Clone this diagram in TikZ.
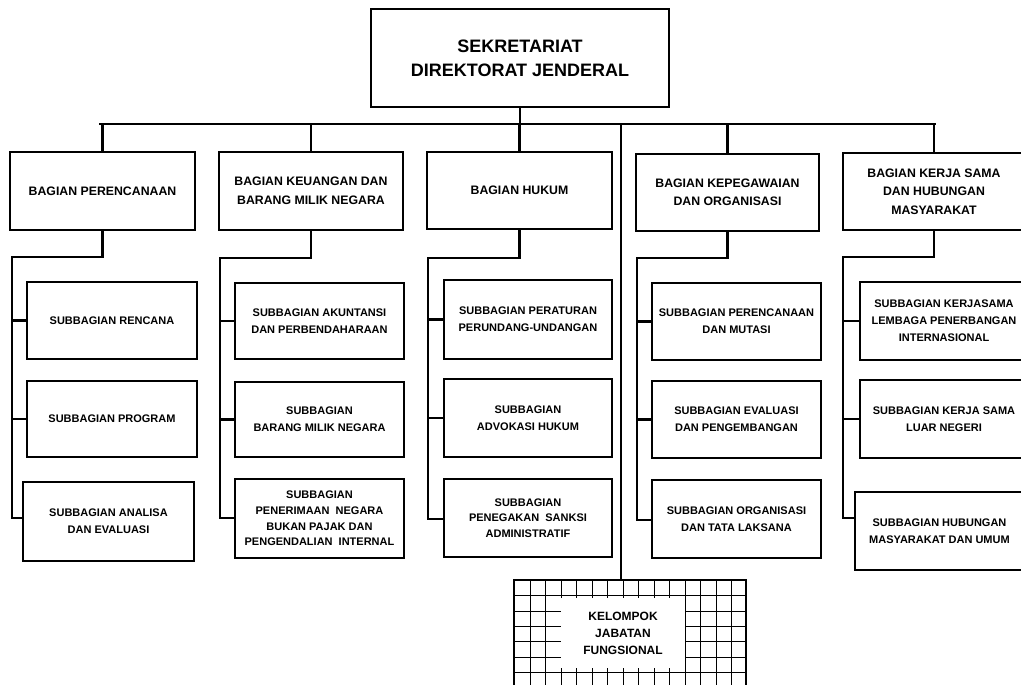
\documentclass[tikz,border=0pt]{standalone}
\usepackage{fontspec}
\setmainfont{Liberation Sans}
\begin{document}
\begin{tikzpicture}[x=1pt,y=-1pt,
  boxbase/.style={draw=black,line width=2.4pt,rectangle,inner sep=0pt,align=center,fill=white},
  topbox/.style={boxbase,font=\fontsize{18}{24}\selectfont\bfseries},
  headbox/.style={boxbase,font=\fontsize{12.3}{18.5}\selectfont\bfseries},
  subbox/.style={boxbase,font=\fontsize{11}{17}\selectfont\bfseries},
  conn/.style={line width=2.4pt,line cap=rect},
  thinconn/.style={line width=2pt},
  gridl/.style={line width=1pt},
  keltext/.style={fill=white,inner sep=0pt,align=center,font=\fontsize{12}{17}\selectfont\bfseries}
]
\useasboundingbox (0,0) rectangle (1021,685);
\clip (0,0) rectangle (1021,685);
\fill[white] (0,0) rectangle (1021,685);

% bus coordinates
\coordinate (busL) at (100,124);
\coordinate (busR) at (935,124);
\coordinate (busK) at (621,124);

% Kelompok jabatan fungsional (grid box)
\node[draw=black,line width=2.4pt,rectangle,inner sep=0pt,minimum width=232pt,minimum height=140pt] (kgrid) at (630,650) {};
\foreach \i in {1,...,14} \draw[gridl] ({514.5+\i*15.5},580) -- ({514.5+\i*15.5},700);
\foreach \j in {1,...,7} \draw[gridl] (514,{580.5+\j*15.3}) -- (746,{580.5+\j*15.3});
\node[keltext,minimum width=124pt,minimum height=70pt] (kel) at (623,633) {KELOMPOK\\JABATAN\\FUNGSIONAL};

% top box
\node[topbox,minimum width=298pt,minimum height=98pt] (top) at (520,58) {SEKRETARIAT\\DIREKTORAT JENDERAL};

% headers
\node[headbox,minimum width=185pt,minimum height=78pt] (h1) at (102.5,191) {BAGIAN PERENCANAAN};
\node[headbox,minimum width=184pt,minimum height=78pt] (h2) at (311,191) {BAGIAN KEUANGAN DAN\\BARANG MILIK NEGARA};
\node[headbox,minimum width=185pt,minimum height=77pt] (h3) at (519.5,190.5) {BAGIAN HUKUM};
\node[headbox,minimum width=183pt,minimum height=77pt] (h4) at (727.5,192.5) {BAGIAN KEPEGAWAIAN\\DAN ORGANISASI};
\node[headbox,minimum width=182pt,minimum height=77pt] (h5) at (934,191.5) {BAGIAN KERJA SAMA\\DAN HUBUNGAN\\MASYARAKAT};

% sub boxes column 1
\node[subbox,minimum width=170pt,minimum height=77pt] (s11) at (112,320.5) {SUBBAGIAN RENCANA};
\node[subbox,minimum width=170pt,minimum height=76pt] (s12) at (112,419) {SUBBAGIAN PROGRAM};
\node[subbox,minimum width=171pt,minimum height=79pt] (s13) at (108.5,521.5) {SUBBAGIAN ANALISA\\DAN EVALUASI};
% column 2
\node[subbox,minimum width=169pt,minimum height=76pt] (s21) at (319.5,321) {SUBBAGIAN AKUNTANSI\\DAN PERBENDAHARAAN};
\node[subbox,minimum width=169pt,minimum height=75pt] (s22) at (319.5,419.5) {SUBBAGIAN\\BARANG MILIK NEGARA};
\node[subbox,minimum width=169pt,minimum height=79pt,font=\fontsize{11}{15.7}\selectfont\bfseries] (s23) at (319.5,518.5) {SUBBAGIAN\\PENERIMAAN\ \ NEGARA\\BUKAN PAJAK DAN\\PENGENDALIAN\ \ INTERNAL};
% column 3
\node[subbox,minimum width=168pt,minimum height=79pt] (s31) at (528,319.5) {SUBBAGIAN PERATURAN\\PERUNDANG-UNDANGAN};
\node[subbox,minimum width=168pt,minimum height=78pt] (s32) at (528,418) {SUBBAGIAN\\ADVOKASI HUKUM};
\node[subbox,minimum width=168pt,minimum height=78pt,font=\fontsize{11}{15.7}\selectfont\bfseries] (s33) at (528,518) {SUBBAGIAN\\PENEGAKAN\ \ SANKSI\\ADMINISTRATIF};
% column 4
\node[subbox,minimum width=169pt,minimum height=77pt] (s41) at (736.5,321.5) {SUBBAGIAN PERENCANAAN\\DAN MUTASI};
\node[subbox,minimum width=169pt,minimum height=77pt] (s42) at (736.5,419.5) {SUBBAGIAN EVALUASI\\DAN PENGEMBANGAN};
\node[subbox,minimum width=169pt,minimum height=78pt] (s43) at (736.5,519) {SUBBAGIAN ORGANISASI\\DAN TATA LAKSANA};
% column 5
\node[subbox,minimum width=168pt,minimum height=78pt] (s51) at (944,321) {SUBBAGIAN KERJASAMA\\LEMBAGA PENERBANGAN\\INTERNASIONAL};
\node[subbox,minimum width=168pt,minimum height=78pt] (s52) at (944,419) {SUBBAGIAN KERJA SAMA\\LUAR NEGERI};
\node[subbox,minimum width=169pt,minimum height=78pt] (s53) at (939.5,531) {SUBBAGIAN HUBUNGAN\\MASYARAKAT DAN UMUM};

% bus and drops
\draw[conn] (busL) -- (busR);
\draw[conn] (top.south) -- (top.south |- busL);
\foreach \h in {h1,h2,h3,h4,h5} \draw[conn] (\h.north) -- (\h.north |- busL);
\draw[thinconn] (busK) -- (busK |- kgrid.north);

% spines
\coordinate (sp1t) at (12,257);  \coordinate (sp1b) at (12,518);
\coordinate (sp2t) at (220,258); \coordinate (sp2b) at (220,518);
\coordinate (sp3t) at (428,258); \coordinate (sp3b) at (428,519);
\coordinate (sp4t) at (637,258); \coordinate (sp4b) at (637,520);
\coordinate (sp5t) at (843,257); \coordinate (sp5b) at (843,518);

\draw[conn] (h1.south) |- (sp1t) -- (sp1b);
\draw[conn] (h2.south) |- (sp2t) -- (sp2b);
\draw[conn] (h3.south) |- (sp3t) -- (sp3b);
\draw[conn] (h4.south) |- (sp4t) -- (sp4b);
\draw[conn] (h5.south) |- (sp5t) -- (sp5b);

% ticks
\draw[conn] (sp1t |- s11.west) -- (s11.west);
\draw[conn] (sp1t |- s12.west) -- (s12.west);
\draw[conn] (sp1b) -- (sp1b -| s13.west);
\draw[conn] (sp2t |- s21.west) -- (s21.west);
\draw[conn] (sp2t |- s22.west) -- (s22.west);
\draw[conn] (sp2b) -- (sp2b -| s23.west);
\draw[conn] (sp3t |- s31.west) -- (s31.west);
\draw[conn] (sp3t |- s32.west) -- (s32.west);
\draw[conn] (sp3b) -- (sp3b -| s33.west);
\draw[conn] (sp4t |- s41.west) -- (s41.west);
\draw[conn] (sp4t |- s42.west) -- (s42.west);
\draw[conn] (sp4b) -- (sp4b -| s43.west);
\draw[conn] (sp5t |- s51.west) -- (s51.west);
\draw[conn] (sp5t |- s52.west) -- (s52.west);
\draw[conn] (sp5b) -- (sp5b -| s53.west);
\end{tikzpicture}
\end{document}
